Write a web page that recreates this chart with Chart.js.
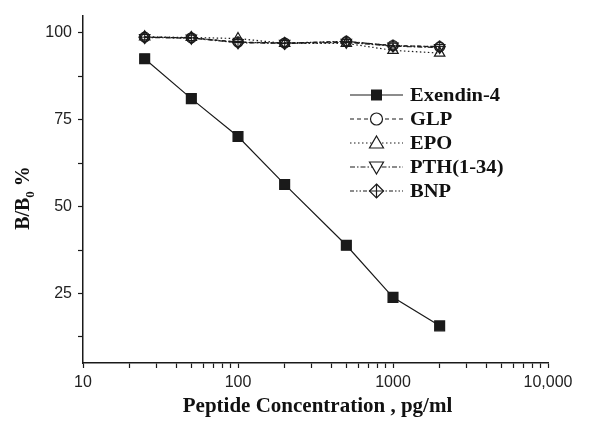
<!DOCTYPE html>
<html lang="en">
<head>
    <meta charset="UTF-8">
    <title>B/B0 % vs Peptide Concentration</title>
    <script src="https://cdn.jsdelivr.net/npm/chart.js"></script>
    <style>
        html, body { margin: 0; padding: 0; background: #fff; }
        #wrap { width: 589px; height: 425px; position: relative; }
    </style>
</head>
<body>
<div id="wrap"><canvas id="chart"></canvas></div>

<script>
// data
const concentrations = [25, 50, 100, 200, 500, 1000, 2000];
const exendin4 = [92.6, 81.1, 70.2, 56.4, 38.9, 23.9, 15.7];
const glp = [98.8, 98.6, 97.4, 97.1, 97.5, 96.4, 96.0];
const epo = [98.9, 98.7, 98.4, 97.0, 97.0, 95.0, 94.2];
const pth = [98.7, 98.5, 97.2, 97.0, 97.3, 96.2, 95.8];
const bnp = [98.8, 98.6, 97.3, 97.1, 97.6, 96.3, 96.1];

const seriesNames = ['Exendin-4', 'GLP', 'EPO', 'PTH(1-34)', 'BNP'];
const xMajorTicks = [10, 100, 1000, 10000];
const yMajorTicks = [25, 50, 75, 100];

const ink = '#1a1a1a';
const serif = "'Liberation Serif', 'DejaVu Serif', serif";
const sans = "'Liberation Sans', Arial, sans-serif";

// diamond with a cross inside, used for BNP
function crossDiamond(size) {
    const c = document.createElement('canvas');
    c.width = size; c.height = size;
    const g = c.getContext('2d');
    const m = size / 2, r = size / 2 - 0.8;
    g.strokeStyle = ink;
    g.lineWidth = 1.2;
    g.beginPath();
    g.moveTo(m, m - r); g.lineTo(m + r, m); g.lineTo(m, m + r); g.lineTo(m - r, m); g.closePath();
    g.moveTo(m - r, m); g.lineTo(m + r, m);
    g.moveTo(m, m - r); g.lineTo(m, m + r);
    g.stroke();
    return c;
}
const bnpMarker = crossDiamond(13);

function pts(vals) {
    return concentrations.map((c, i) => ({ x: c, y: vals[i] }));
}

const styles = [
    { dash: [], point: 'rect', radius: 7, rot: 0, fill: ink },
    { dash: [4, 3], point: 'circle', radius: 5, rot: 0, fill: 'transparent' },
    { dash: [1.5, 2.5], point: 'triangle', radius: 6, rot: 0, fill: 'transparent' },
    { dash: [5, 2, 1.5, 2], point: 'triangle', radius: 6, rot: 180, fill: 'transparent' },
    { dash: [4, 2, 1.5, 2, 1.5, 2], point: bnpMarker, radius: 6, rot: 0, fill: 'transparent' }
];
const allValues = [exendin4, glp, epo, pth, bnp];

const datasets = allValues.map((vals, i) => ({
    label: seriesNames[i],
    data: pts(vals),
    borderColor: ink,
    borderWidth: 1.2,
    borderDash: styles[i].dash,
    pointStyle: styles[i].point,
    pointRadius: styles[i].radius,
    pointRotation: styles[i].rot,
    pointBackgroundColor: styles[i].fill,
    pointBorderColor: ink,
    pointBorderWidth: 1.2,
    tension: 0
}));

// legend with line + marker, drawn inside the plot
function legendMarker(ctx, i, x, y) {
    ctx.save();
    ctx.setLineDash([]);
    ctx.lineWidth = 1.2;
    ctx.strokeStyle = ink;
    ctx.fillStyle = '#fff';
    ctx.beginPath();
    if (i === 0) {
        ctx.fillStyle = ink;
        ctx.rect(x - 5.5, y - 5.5, 11, 11);
        ctx.fill();
    } else if (i === 1) {
        ctx.arc(x, y, 6, 0, Math.PI * 2);
        ctx.fill(); ctx.stroke();
    } else if (i === 2 || i === 3) {
        const s = i === 2 ? 1 : -1;
        ctx.moveTo(x, y - 7 * s);
        ctx.lineTo(x + 7, y + 5 * s);
        ctx.lineTo(x - 7, y + 5 * s);
        ctx.closePath();
        ctx.fill(); ctx.stroke();
    } else {
        ctx.moveTo(x, y - 7); ctx.lineTo(x + 7, y); ctx.lineTo(x, y + 7); ctx.lineTo(x - 7, y); ctx.closePath();
        ctx.fill(); ctx.stroke();
        ctx.beginPath();
        ctx.moveTo(x - 7, y); ctx.lineTo(x + 7, y);
        ctx.moveTo(x, y - 7); ctx.lineTo(x, y + 7);
        ctx.stroke();
    }
    ctx.restore();
}

// the reference text is a bit wide, so stretch it sideways
function wideText(ctx, text, x, y, sx) {
    ctx.save();
    ctx.translate(x, y);
    ctx.scale(sx, 1);
    ctx.fillText(text, 0, 0);
    ctx.restore();
}

const decorPlugin = {
    id: 'decor',
    afterDraw(chart) {
        const ctx = chart.ctx;
        const ca = chart.chartArea;
        ctx.save();

        // legend
        const x0 = ca.left + 267, x1 = ca.left + 320, mx = ca.left + 293.5;
        seriesNames.forEach((name, i) => {
            const y = 95 + i * 24;
            ctx.strokeStyle = ink;
            ctx.lineWidth = 1.2;
            ctx.setLineDash(styles[i].dash);
            ctx.beginPath();
            ctx.moveTo(x0, y); ctx.lineTo(x1, y);
            ctx.stroke();
            legendMarker(ctx, i, mx, y);
            ctx.setLineDash([]);
            ctx.fillStyle = '#111';
            ctx.font = 'bold 18px ' + serif;
            ctx.textAlign = 'left';
            ctx.textBaseline = 'middle';
            wideText(ctx, name, x1 + 7, y + 1, 1.14);
        });

        // x title
        ctx.fillStyle = '#111';
        ctx.font = 'bold 21px ' + serif;
        ctx.textAlign = 'center';
        ctx.textBaseline = 'alphabetic';
        ctx.fillText('Peptide Concentration , pg/ml', (ca.left + ca.right) / 2 + 2, 412);

        // y title with subscript 0
        ctx.translate(29, 198);
        ctx.rotate(-Math.PI / 2);
        const big = 'bold 20px ' + serif, small = 'bold 13px ' + serif;
        ctx.font = big;
        const w1 = ctx.measureText('B/B').width;
        const w3 = ctx.measureText(' %').width;
        ctx.font = small;
        const w2 = ctx.measureText('0').width;
        let x = -(w1 + w2 + w3) / 2;
        ctx.textAlign = 'left';
        ctx.font = big;
        ctx.fillText('B/B', x, 0);
        x += w1;
        ctx.font = small;
        ctx.fillText('0', x, 5);
        x += w2;
        ctx.font = big;
        ctx.fillText(' %', x, 0);
        ctx.restore();
    }
};

new Chart(document.getElementById('chart'), {
    type: 'line',
    data: { datasets },
    options: {
        responsive: true,
        maintainAspectRatio: false,
        animation: false,
        layout: { padding: { left: 0, right: 41, top: 15, bottom: 0 } },
        plugins: {
            legend: { display: false },
            tooltip: { enabled: false }
        },
        scales: {
            x: {
                type: 'logarithmic',
                min: 10,
                max: 10000,
                afterBuildTicks(scale) {
                    const t = [];
                    for (let d = 10; d < 10000; d *= 10) {
                        for (let k = 1; k < 10; k++) t.push({ value: d * k });
                    }
                    t.push({ value: 10000 });
                    scale.ticks = t;
                },
                afterFit(scale) { scale.height = 62; },
                ticks: {
                    autoSkip: false,
                    maxRotation: 0,
                    padding: 5,
                    color: '#222',
                    font: { family: sans, size: 16 },
                    callback(value) {
                        if (!xMajorTicks.includes(value)) return '';
                        return value >= 10000 ? value.toLocaleString('en-US') : String(value);
                    }
                },
                grid: { drawOnChartArea: false, drawTicks: true, tickLength: 5, color: ink, tickWidth: 1.2 },
                border: { display: true, color: ink, width: 1.5 }
            },
            y: {
                type: 'linear',
                min: 5,
                max: 105,
                afterBuildTicks(scale) {
                    const t = [];
                    for (let v = 12.5; v <= 100; v += 12.5) t.push({ value: v });
                    scale.ticks = t;
                },
                afterFit(scale) { scale.width = 83; },
                ticks: {
                    autoSkip: false,
                    padding: 6,
                    color: '#222',
                    font: { family: sans, size: 16 },
                    callback(value) {
                        return yMajorTicks.includes(value) ? String(value) : '';
                    }
                },
                grid: { drawOnChartArea: false, drawTicks: true, tickLength: 5, color: ink, tickWidth: 1.2 },
                border: { display: true, color: ink, width: 1.5 }
            }
        }
    },
    plugins: [decorPlugin]
});
</script>
</body>
</html>
